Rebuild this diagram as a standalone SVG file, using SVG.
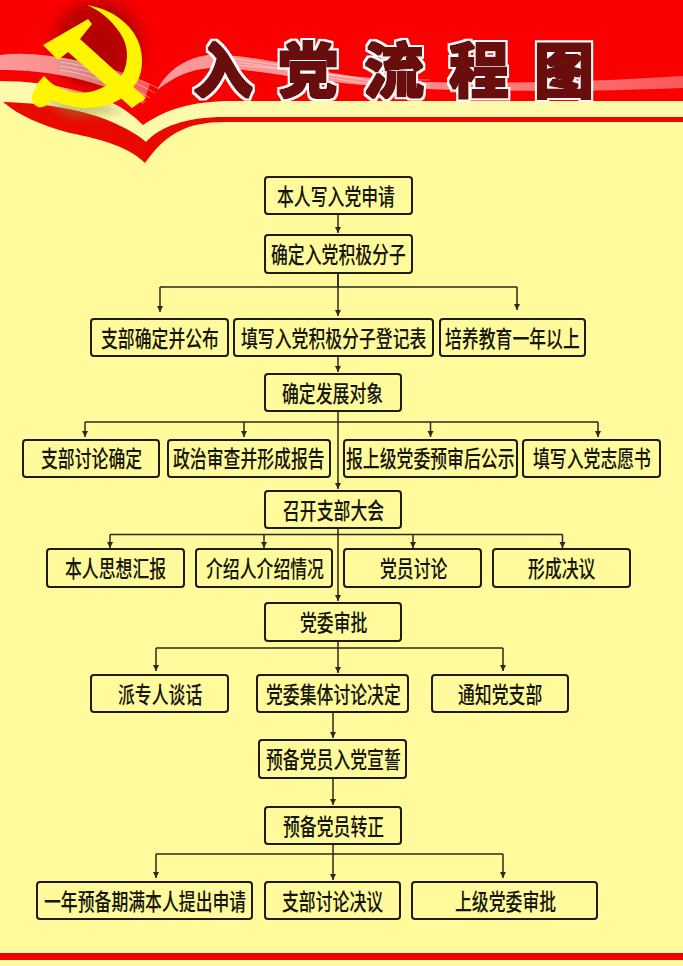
<svg xmlns="http://www.w3.org/2000/svg" width="683" height="966" viewBox="0 0 683 966">
<style>
.b{fill:#FFFA9C;stroke:#1c1c10;stroke-width:2}
.t{font-family:"Noto Sans CJK SC","Noto Sans CJK JP",sans-serif;font-size:23px;font-weight:500;fill:#15150a}
.c{fill:none;stroke:#2a2a18;stroke-width:1.5;marker-end:url(#a)}
.l{fill:none;stroke:#2a2a18;stroke-width:1.5}
.r{fill:none;stroke:#fff;stroke-width:.7;stroke-opacity:.6}
.ti{font-family:"Noto Sans CJK SC","Noto Sans CJK JP",sans-serif;font-size:60px;font-weight:900;fill:#6a0808;filter:url(#tf)}
</style>
<defs>
<marker id="a" markerUnits="userSpaceOnUse" markerWidth="7" markerHeight="8" refX="6" refY="3" orient="auto"><path d="M0 0L6 3L0 6z" fill="#2a2a18"/></marker>
<radialGradient id="glow" gradientUnits="userSpaceOnUse" cx="98" cy="45" r="62"><stop offset="0" stop-color="#b00000"/><stop offset=".6" stop-color="#c00000"/><stop offset="1" stop-color="#fa0000" stop-opacity="0"/></radialGradient>
<linearGradient id="rib" x1="0" y1="0" x2="1" y2="0"><stop offset="0" stop-color="#fff" stop-opacity=".6"/><stop offset=".5" stop-color="#fff" stop-opacity=".55"/><stop offset="1" stop-color="#fff" stop-opacity=".35"/></linearGradient>
<filter id="s" x="-20%" y="-20%" width="140%" height="140%"><feGaussianBlur stdDeviation="4"/></filter>
<filter id="tf" x="-5%" y="-10%" width="110%" height="120%">
<feMorphology in="SourceGraphic" operator="dilate" radius=".7" result="d"/>
<feMorphology in="SourceAlpha" operator="dilate" radius="3.2" result="o"/>
<feFlood flood-color="#fff"/><feComposite in2="o" operator="in" result="w"/>
<feMerge><feMergeNode in="w"/><feMergeNode in="d"/></feMerge>
</filter>
</defs>
<rect width="683" height="966" fill="#FFFA9C"/>
<path id="bandpale" d="M0 78H683V118H215L145 142L100 118L3 104H0z" fill="#FFF9AC"/>
<path id="topred" d="M0 0H683V101H232C190 101 165 110 143 125C125 107 105 97 75 90C50 84 25 81 0 81z" fill="#fa0000"/>
<rect x="30" y="0" width="140" height="110" fill="url(#glow)"/>
<path id="lowred" d="M3 102C45 103 85 110 112 122C125 128 137 134 146 142C160 127 185 117 225 117H683V122H225C185 122 165 135 145 163C130 148 105 140 70 133C40 125 20 116 3 102z" fill="#e80a00"/>
<path d="M0 55C40 50 95 62 150 84L143 104C100 80 50 70 0 70z" fill="url(#rib)"/>
<path d="M157 90C172 62 200 52 225 55C290 60 340 82 430 82C490 84 590 82 683 76V88C590 92 490 92 400 88C330 84 270 72 225 68C195 66 175 76 157 90z" fill="url(#rib)"/>
<g class="ribbon">
<path class="r" d="M60 58C90 62 125 72 158 88"/><path class="r" d="M60 62C90 66 125 76 155 93"/><path class="r" d="M60 66C90 70 120 80 150 98"/><path class="r" d="M60 70C90 74 115 84 146 102"/>
<path class="r" d="M220 58C290 62 340 84 430 84"/><path class="r" d="M220 61C290 65 340 87 430 87"/><path class="r" d="M220 64C290 68 340 80 430 80"/>
</g>
<path id="logoShadow" d="M38 95C70 92 95 100 125 112L70 118z" fill="#8c8a40" opacity=".45" filter="url(#s)"/>
<g id="logo" fill="#FFF500">
<path d="M87 5C118 10 142 32 142 60C142 72 139 81 133 87L146 98L132 108L122 98C107 108 85 110 70 106C62 104 56 102 51 100C48 106 42 108 38 107C30 104 30 93 37 88L36 85L44 76L48 80C60 92 85 99 107 85L113 80L122 75C128 65 130 47 120 33C110 18 100 11 87 5z"/>
<path d="M43 45L83 22L88 19L92 24L80 39L144 97L132 108L68 52L58 60z"/>
</g>
<rect y="953" width="683" height="7" fill="#f00000"/>
<text class="ti" x="193 278 364 449 534" y="93">入党流程图</text>
<g id="connectors">
<path class="c" d="M338 214V233"/>
<path class="l" d="M338 273V287M160 287H517"/>
<path class="c" d="M160 287V312"/><path class="c" d="M338 273V316"/><path class="c" d="M517 287V310"/>
<path class="c" d="M338 356V372"/>
<path class="l" d="M85 422H598"/>
<path class="c" d="M85 422V437"/><path class="c" d="M244 422V437"/><path class="c" d="M430.500 422V437"/><path class="c" d="M598 422V437"/>
<path class="c" d="M338 411V489"/>
<path class="l" d="M110 534.500H562.500"/>
<path class="c" d="M110 534.500V548"/><path class="c" d="M264 534.500V548"/><path class="c" d="M413 534.500V548"/><path class="c" d="M562.500 534.500V548"/>
<path class="c" d="M338 528V601"/>
<path class="l" d="M156 648H503"/>
<path class="c" d="M156 648V671"/><path class="c" d="M338 641V673"/><path class="c" d="M503 648V671"/>
<path class="c" d="M333 712V738"/>
<path class="c" d="M333 778V805"/>
<path class="l" d="M156 854H503"/>
<path class="c" d="M156 854V878"/><path class="c" d="M333 844V880"/><path class="c" d="M503 854V878"/>
</g>
<g id="n1"><rect class="b" x="265" y="177" width="147" height="37" rx="3"/><text class="t" transform="translate(277 205)scale(.733 1)">本人写入党申请</text></g>
<g id="n2"><rect class="b" x="265" y="235" width="147" height="38" rx="3"/><text class="t" transform="translate(271 263)scale(.733 1)">确定入党积极分子</text></g>
<g id="n3"><rect class="b" x="91" y="319" width="137" height="37" rx="3"/><text class="t" transform="translate(101 347)scale(.733 1)">支部确定并公布</text></g>
<g id="n4"><rect class="b" x="234" y="319" width="199" height="37" rx="3"/><text class="t" transform="translate(241 347)scale(.733 1)">填写入党积极分子登记表</text></g>
<g id="n5"><rect class="b" x="440" y="319" width="145" height="37" rx="3"/><text class="t" transform="translate(445 347)scale(.733 1)">培养教育一年以上</text></g>
<g id="n6"><rect class="b" x="265" y="374" width="136" height="37" rx="3"/><text class="t" transform="translate(282 402)scale(.733 1)">确定发展对象</text></g>
<g id="n7"><rect class="b" x="23" y="440" width="136" height="37" rx="3"/><text class="t" transform="translate(41 467)scale(.733 1)">支部讨论确定</text></g>
<g id="n8"><rect class="b" x="168" y="440" width="162" height="37" rx="3"/><text class="t" transform="translate(173 467)scale(.733 1)">政治审查并形成报告</text></g>
<g id="n9"><rect class="b" x="344" y="440" width="173" height="37" rx="3"/><text class="t" transform="translate(346 467)scale(.733 1)">报上级党委预审后公示</text></g>
<g id="n10"><rect class="b" x="523" y="440" width="137" height="37" rx="3"/><text class="t" transform="translate(533 467)scale(.733 1)">填写入党志愿书</text></g>
<g id="n11"><rect class="b" x="265" y="491" width="136" height="37" rx="3"/><text class="t" transform="translate(283 519)scale(.733 1)">召开支部大会</text></g>
<g id="n12"><rect class="b" x="47" y="549" width="137" height="38" rx="3"/><text class="t" transform="translate(65 577)scale(.733 1)">本人思想汇报</text></g>
<g id="n13"><rect class="b" x="196" y="549" width="136" height="38" rx="3"/><text class="t" transform="translate(206 577)scale(.733 1)">介绍人介绍情况</text></g>
<g id="n14"><rect class="b" x="344" y="549" width="137" height="38" rx="3"/><text class="t" transform="translate(380 577)scale(.733 1)">党员讨论</text></g>
<g id="n15"><rect class="b" x="493" y="549" width="137" height="38" rx="3"/><text class="t" transform="translate(528 577)scale(.733 1)">形成决议</text></g>
<g id="n16"><rect class="b" x="265" y="603" width="136" height="38" rx="3"/><text class="t" transform="translate(300 631)scale(.733 1)">党委审批</text></g>
<g id="n17"><rect class="b" x="91" y="675" width="137" height="37" rx="3"/><text class="t" transform="translate(118 703)scale(.733 1)">派专人谈话</text></g>
<g id="n18"><rect class="b" x="257" y="675" width="151" height="37" rx="3"/><text class="t" transform="translate(266 703)scale(.733 1)">党委集体讨论决定</text></g>
<g id="n19"><rect class="b" x="432" y="675" width="136" height="37" rx="3"/><text class="t" transform="translate(458 703)scale(.733 1)">通知党支部</text></g>
<g id="n20"><rect class="b" x="259" y="740" width="147" height="38" rx="3"/><text class="t" transform="translate(266 768)scale(.733 1)">预备党员入党宣誓</text></g>
<g id="n21"><rect class="b" x="265" y="807" width="136" height="37" rx="3"/><text class="t" transform="translate(283 835)scale(.733 1)">预备党员转正</text></g>
<g id="n22"><rect class="b" x="37" y="882" width="215" height="37" rx="3"/><text class="t" transform="translate(44 910)scale(.733 1)">一年预备期满本人提出申请</text></g>
<g id="n23"><rect class="b" x="265" y="882" width="135" height="37" rx="3"/><text class="t" transform="translate(282 910)scale(.733 1)">支部讨论决议</text></g>
<g id="n24"><rect class="b" x="412" y="882" width="185" height="37" rx="3"/><text class="t" transform="translate(455 910)scale(.733 1)">上级党委审批</text></g>
</svg>
